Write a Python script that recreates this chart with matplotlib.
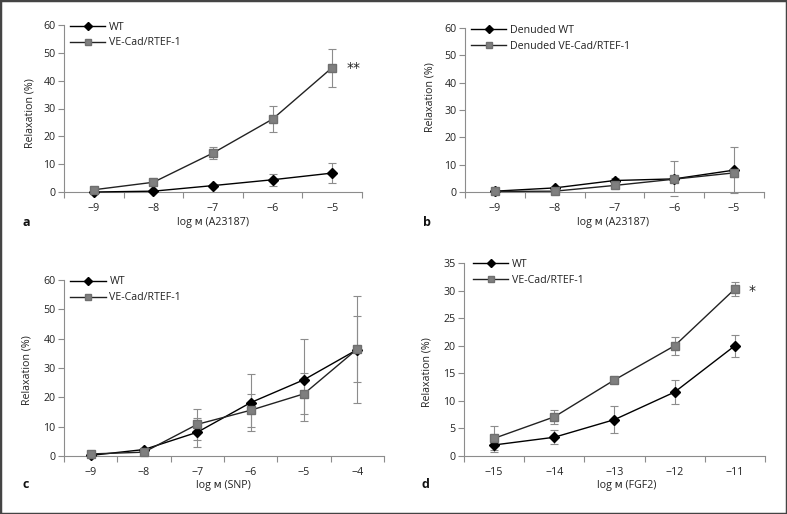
import matplotlib
matplotlib.use("Agg")
import matplotlib.pyplot as plt
from matplotlib.patches import Rectangle
import numpy as np

plt.rcParams['font.family'] = ['Open Sans', 'DejaVu Sans']
plt.rcParams['font.size'] = 7.3

# ---- data ----
a_x = ["−9", "−8", "−7", "−6", "−5"]
a_wt = [0.0, 0.3, 2.3, 4.4, 6.8]
a_wt_err = [0.3, 0.3, 0.5, 2.1, 3.6]
a_ve = [0.8, 3.5, 14.0, 26.2, 44.7]
a_ve_err = [0.3, 0.3, 2.1, 4.6, 6.8]

b_x = ["−9", "−8", "−7", "−6", "−5"]
b_wt = [0.3, 1.5, 4.2, 4.8, 8.0]
b_wt_err = [0.3, 0.4, 0.9, 6.4, 8.3]
b_ve = [0.2, 0.3, 2.4, 4.7, 7.0]
b_ve_err = [0.2, 0.3, 0.5, 1.0, 1.5]

c_x = ["−9", "−8", "−7", "−6", "−5", "−4"]
c_wt = [0.2, 2.2, 8.1, 18.2, 26.0, 36.3]
c_wt_err = [0.3, 0.5, 5.0, 9.6, 14.0, 18.3]
c_ve = [0.7, 1.3, 10.8, 15.6, 21.2, 36.5]
c_ve_err = [0.3, 0.4, 5.2, 5.7, 7.0, 11.3]

d_x = ["−15", "−14", "−13", "−12", "−11"]
d_wt = [2.0, 3.4, 6.6, 11.6, 20.0]
d_wt_err = [1.2, 1.3, 2.5, 2.2, 2.0]
d_ve = [3.2, 7.1, 13.8, 20.0, 30.3]
d_ve_err = [2.2, 1.3, 0.6, 1.6, 1.3]

W, H = 787, 514
fig = plt.figure(figsize=(W / 100, H / 100), dpi=100)

SPINE = '#8c8c8c'
TXT = '#222222'
ERR = '#8c8c8c'
GRAY = '#7f7f7f'
FS = 7.3


def make_ax(l, r, y0, ytop):
    return fig.add_axes([l / W, 1 - y0 / H, (r - l) / W, (y0 - ytop) / H])


def panel(ax, cats, wt, wte, ve, vee, ymax, ystep, labels, xlabel, lx, ly, xlx, xly, leg_anchor):
    n = len(cats)
    x = np.arange(n)
    ax.errorbar(x, wt, yerr=wte, fmt='none', ecolor=ERR, elinewidth=0.8, capsize=2.8, capthick=0.8, zorder=2)
    ax.errorbar(x, ve, yerr=vee, fmt='none', ecolor=ERR, elinewidth=0.8, capsize=2.8, capthick=0.8, zorder=2)
    ax.plot(x, wt, color='black', lw=1.0, marker='D', ms=5.5, mfc='black', mec='black', label=labels[0], zorder=3)
    ax.plot(x, ve, color='#222222', lw=1.0, marker='s', ms=5.5, mfc=GRAY, mec='#6f6f6f', label=labels[1], zorder=3)
    ax.set_xlim(-0.5, n - 0.5)
    ax.set_ylim(0, ymax)
    ax.set_yticks(np.arange(0, ymax + 0.1, ystep))
    ax.set_xticks(x)
    ax.set_xticklabels(cats)
    ax.set_xticks(np.arange(-0.5, n, 1.0), minor=True)
    ax.tick_params(axis='x', which='major', length=0, pad=8, colors=TXT, labelsize=FS + 0.4)
    ax.tick_params(axis='x', which='minor', length=4, width=0.8, color=SPINE, direction='out')
    ax.tick_params(axis='y', length=4, width=0.8, color=SPINE, labelcolor=TXT, labelsize=FS + 0.4, pad=2)
    for s in ['top', 'right']:
        ax.spines[s].set_visible(False)
    for s in ['left', 'bottom']:
        ax.spines[s].set_color(SPINE)
        ax.spines[s].set_linewidth(0.8)
    ax.set_ylabel("Relaxation (%)", color=TXT, fontsize=FS + 0.4)
    ax.yaxis.set_label_coords(lx, ly)
    ax.set_xlabel(xlabel, color=TXT, fontsize=FS + 0.4)
    ax.xaxis.set_label_coords(xlx, xly)
    leg = ax.legend(loc='upper left', bbox_to_anchor=leg_anchor, frameon=False, fontsize=FS + 0.4,
                    handlelength=3.3, handletextpad=0.35, labelspacing=0.45, borderpad=0,
                    borderaxespad=0, markerscale=0.75)
    for t in leg.get_texts():
        t.set_color(TXT)
    ax.patch.set_alpha(0)
    for line in ax.lines:
        line.set_clip_on(False)


ax_a = make_ax(64, 362, 192, 25)
panel(ax_a, a_x, a_wt, a_wt_err, a_ve, a_ve_err, 60, 10, ["WT", "VE-Cad/RTEF-1"],
      "log ᴍ (A23187)", -0.097, 0.47, 0.5, -0.15, (0.02, 1.02))
ax_a.text(4.24, 44.5, "**", fontsize=10, color=TXT, va='center', ha='left', family='DejaVu Sans')

ax_b = make_ax(465, 764, 192, 28)
panel(ax_b, b_x, b_wt, b_wt_err, b_ve, b_ve_err, 60, 10, ["Denuded WT", "Denuded VE-Cad/RTEF-1"],
      "log ᴍ (A23187)", -0.1, 0.58, 0.495, -0.152, (0.02, 1.02))

ax_c = make_ax(64, 384, 456, 280)
panel(ax_c, c_x, c_wt, c_wt_err, c_ve, c_ve_err, 60, 10, ["WT", "VE-Cad/RTEF-1"],
      "log ᴍ (SNP)", -0.097, 0.49, 0.497, -0.136, (0.02, 1.02))

ax_d = make_ax(464, 765, 456, 263)
panel(ax_d, d_x, d_wt, d_wt_err, d_ve, d_ve_err, 35, 5, ["WT", "VE-Cad/RTEF-1"],
      "log ᴍ (FGF2)", -0.103, 0.435, 0.54, -0.124, (0.03, 1.02))
ax_d.text(4.22, 29.9, "*", fontsize=10, color=TXT, va='center', ha='left', family='DejaVu Sans')

for lab, (px, py) in zip(["a", "b", "c", "d"], [(26, 222), (427, 222), (26, 485), (425, 485)]):
    fig.text(px / W, 1 - py / H, lab, fontsize=9, fontweight='bold', color='#111111', va='center', ha='center')

fig.add_artist(Rectangle((0, 0), 1, 1, transform=fig.transFigure, fill=False, edgecolor='#444444', lw=2.5))

fig.savefig("out.png", dpi=100)
